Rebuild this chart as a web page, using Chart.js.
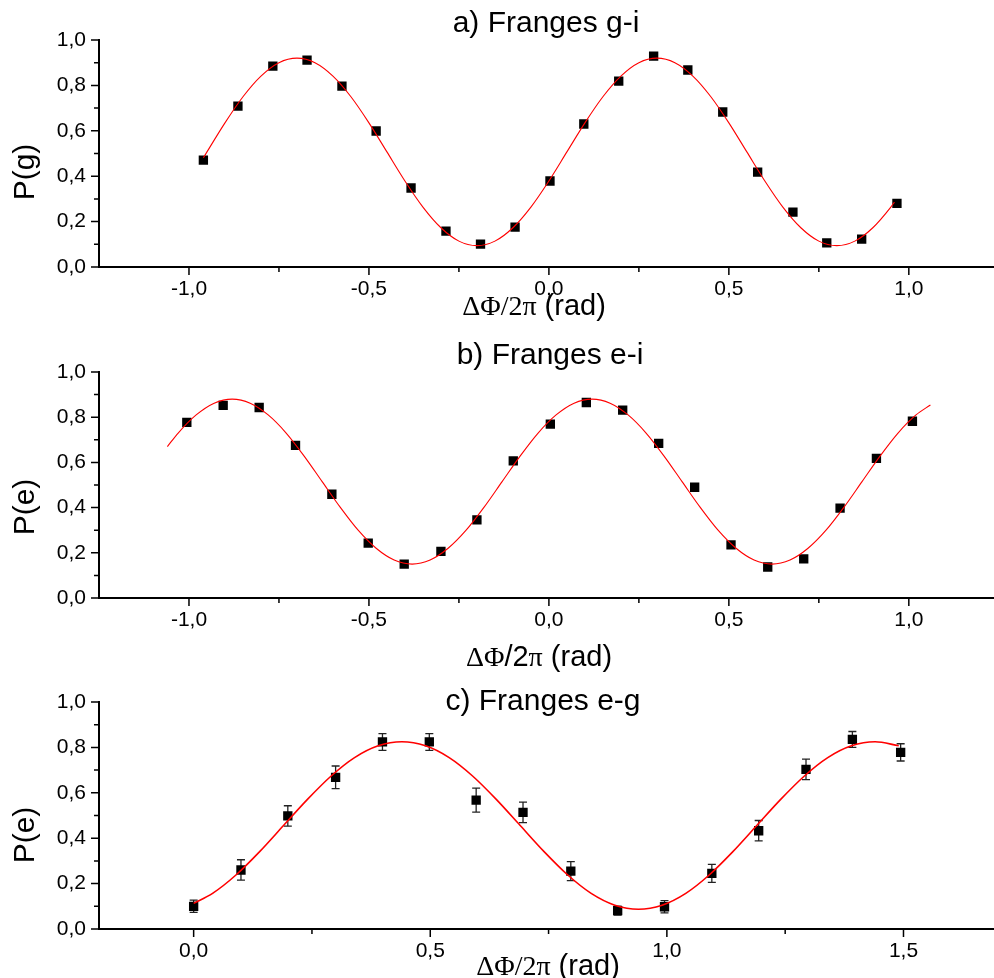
<!DOCTYPE html>
<html>
<head>
<meta charset="utf-8">
<script src="https://cdn.jsdelivr.net/npm/chart.js@4.4.1/dist/chart.umd.min.js"></script>
<style>
  html, body { margin: 0; background: #fff; }
  #wrap { position: relative; width: 994px; height: 978px; overflow: hidden; }
  canvas { position: absolute; left: 0; top: 0; }
</style>
</head>
<body>
<div id="wrap">
  <canvas id="chartA" width="1000" height="978"></canvas>
  <canvas id="chartB" width="1000" height="978"></canvas>
  <canvas id="chartC" width="1000" height="978"></canvas>
</div>
<script>
// a) Franges g-i
const xA = [-0.96, -0.864, -0.767, -0.672, -0.575, -0.48, -0.383, -0.286, -0.19, -0.094, 0.003, 0.097, 0.194, 0.291, 0.386, 0.483, 0.58, 0.678, 0.772, 0.869, 0.967];
const yA = [0.471, 0.709, 0.885, 0.911, 0.797, 0.599, 0.348, 0.158, 0.101, 0.176, 0.379, 0.63, 0.819, 0.929, 0.868, 0.683, 0.418, 0.242, 0.106, 0.123, 0.28];
const fitXA = [-0.96, -0.95, -0.9, -0.85, -0.8, -0.75, -0.7, -0.65, -0.6, -0.55, -0.5, -0.45, -0.4, -0.35, -0.3, -0.25, -0.2, -0.15, -0.1, -0.05, 0, 0.05, 0.1, 0.15, 0.2, 0.25, 0.3, 0.35, 0.4, 0.45, 0.5, 0.55, 0.6, 0.65, 0.7, 0.75, 0.8, 0.85, 0.9, 0.95, 0.96];
const fitYA = [0.481, 0.507, 0.635, 0.750, 0.841, 0.900, 0.920, 0.900, 0.841, 0.750, 0.635, 0.507, 0.379, 0.264, 0.173, 0.114, 0.094, 0.114, 0.173, 0.264, 0.379, 0.507, 0.635, 0.750, 0.841, 0.900, 0.920, 0.900, 0.841, 0.750, 0.635, 0.507, 0.379, 0.264, 0.173, 0.114, 0.094, 0.114, 0.173, 0.264, 0.286];

// b) Franges e-i
const xB = [-1.006, -0.905, -0.805, -0.704, -0.603, -0.502, -0.402, -0.3, -0.2, -0.099, 0.004, 0.104, 0.205, 0.305, 0.405, 0.506, 0.608, 0.708, 0.809, 0.91, 1.01];
const yB = [0.777, 0.852, 0.843, 0.675, 0.459, 0.243, 0.150, 0.206, 0.346, 0.607, 0.769, 0.865, 0.831, 0.684, 0.49, 0.235, 0.137, 0.173, 0.398, 0.618, 0.782];
const fitXB = [-1.06, -1.03, -0.98, -0.93, -0.88, -0.83, -0.78, -0.73, -0.68, -0.63, -0.58, -0.53, -0.48, -0.43, -0.38, -0.33, -0.28, -0.23, -0.18, -0.13, -0.08, -0.03, 0.02, 0.07, 0.12, 0.17, 0.22, 0.27, 0.32, 0.37, 0.42, 0.47, 0.52, 0.57, 0.62, 0.67, 0.72, 0.77, 0.82, 0.87, 0.92, 0.97, 1.02, 1.06];
const fitYB = [0.670, 0.730, 0.810, 0.862, 0.880, 0.862, 0.810, 0.730, 0.628, 0.515, 0.402, 0.300, 0.220, 0.168, 0.150, 0.168, 0.220, 0.300, 0.402, 0.515, 0.628, 0.730, 0.810, 0.862, 0.880, 0.862, 0.810, 0.730, 0.628, 0.515, 0.402, 0.300, 0.220, 0.168, 0.150, 0.168, 0.220, 0.300, 0.402, 0.515, 0.628, 0.730, 0.810, 0.854];

// c) Franges e-g (with error bars)
const xC = [0, 0.1, 0.199, 0.3, 0.399, 0.498, 0.597, 0.696, 0.797, 0.896, 0.995, 1.095, 1.194, 1.294, 1.392, 1.494];
const yC = [0.1, 0.26, 0.498, 0.668, 0.824, 0.824, 0.568, 0.514, 0.255, 0.081, 0.098, 0.245, 0.433, 0.703, 0.835, 0.778];
const errC = [0.027, 0.045, 0.045, 0.05, 0.037, 0.037, 0.053, 0.045, 0.042, 0.02, 0.027, 0.04, 0.045, 0.045, 0.035, 0.038];
const fitXC = [0, 0.04, 0.09, 0.14, 0.19, 0.24, 0.29, 0.34, 0.39, 0.44, 0.49, 0.54, 0.59, 0.64, 0.69, 0.74, 0.79, 0.84, 0.89, 0.94, 0.99, 1.04, 1.09, 1.14, 1.19, 1.24, 1.29, 1.34, 1.39, 1.44, 1.49];
const fitYC = [0.113, 0.157, 0.239, 0.342, 0.456, 0.570, 0.673, 0.755, 0.807, 0.825, 0.807, 0.755, 0.673, 0.570, 0.456, 0.342, 0.239, 0.157, 0.105, 0.087, 0.105, 0.157, 0.239, 0.342, 0.456, 0.570, 0.673, 0.755, 0.807, 0.825, 0.807];

// tick values
const yMajor = [0, 0.2, 0.4, 0.6, 0.8, 1.0];
const yMinor = [0.1, 0.3, 0.5, 0.7, 0.9];
const xMajorAB = [-1, -0.5, 0, 0.5, 1];
const xMinorAB = [-0.75, -0.25, 0.25, 0.75];
const xMajorC = [0, 0.5, 1, 1.5];
const xMinorC = [0.25, 0.75, 1.25];

const SANS = "'Liberation Sans', Arial, sans-serif";
const SERIF = "'Liberation Serif', 'Times New Roman', serif";

const fmt = v => v.toFixed(1).replace('.', ',');

function decor(p) {
    return {
        id: 'decor',
        beforeDatasetsDraw(chart) {
            if (!p.err) return;
            const ctx = chart.ctx, xs = chart.scales.x, ys = chart.scales.y;
            ctx.save();
            ctx.strokeStyle = '#222';
            ctx.lineWidth = 1.3;
            p.ptX.forEach((x, i) => {
                const px = xs.getPixelForValue(x);
                const top = ys.getPixelForValue(p.ptY[i] + p.err[i]);
                const bot = ys.getPixelForValue(p.ptY[i] - p.err[i]);
                ctx.beginPath();
                ctx.moveTo(px, top); ctx.lineTo(px, bot);
                ctx.moveTo(px - 4, top); ctx.lineTo(px + 4, top);
                ctx.moveTo(px - 4, bot); ctx.lineTo(px + 4, bot);
                ctx.stroke();
            });
            ctx.restore();
        },
        afterDraw(chart) {
            const ctx = chart.ctx, xs = chart.scales.x, ys = chart.scales.y;
            const area = chart.chartArea;
            ctx.save();
            ctx.strokeStyle = '#000';
            ctx.lineWidth = 1.5;
            ctx.beginPath();
            p.xMajor.forEach(v => { const px = xs.getPixelForValue(v); ctx.moveTo(px, area.bottom); ctx.lineTo(px, area.bottom + 8); });
            p.xMinor.forEach(v => { const px = xs.getPixelForValue(v); ctx.moveTo(px, area.bottom); ctx.lineTo(px, area.bottom + 5); });
            yMajor.forEach(v => { const py = ys.getPixelForValue(v); ctx.moveTo(area.left, py); ctx.lineTo(area.left - 8, py); });
            yMinor.forEach(v => { const py = ys.getPixelForValue(v); ctx.moveTo(area.left, py); ctx.lineTo(area.left - 5, py); });
            ctx.stroke();

            ctx.fillStyle = '#000';
            ctx.textBaseline = 'alphabetic';
            ctx.textAlign = 'center';
            ctx.font = '30px ' + SANS;
            ctx.fillText(p.title, p.titlePos[0], p.titlePos[1]);

            ctx.save();
            ctx.translate(34, p.yLabelY);
            ctx.rotate(-Math.PI / 2);
            ctx.fillText(p.yLabel, 0, 0);
            ctx.restore();

            // x label, mixed serif / sans glyphs
            ctx.textAlign = 'left';
            let total = 0;
            p.xLabel.forEach(s => { ctx.font = s[1]; total += ctx.measureText(s[0]).width; });
            let x = p.xLabelPos[0] - total / 2;
            p.xLabel.forEach(s => {
                ctx.font = s[1];
                ctx.fillText(s[0], x, p.xLabelPos[1]);
                x += ctx.measureText(s[0]).width;
            });
            ctx.restore();
        }
    };
}

function makeChart(id, p) {
    new Chart(document.getElementById(id), {
        type: 'scatter',
        data: {
            datasets: [{
                data: p.fitX.map((x, i) => ({ x, y: p.fitY[i] })),
                showLine: true,
                borderColor: '#ff0000',
                borderWidth: p.lw,
                pointRadius: 0,
                cubicInterpolationMode: 'monotone',
                fill: false
            }, {
                data: p.ptX.map((x, i) => ({ x, y: p.ptY[i] })),
                pointStyle: 'rect',
                pointRadius: 6.6,
                backgroundColor: '#000',
                borderWidth: 0
            }]
        },
        options: {
            responsive: false,
            animation: false,
            events: [],
            layout: { padding: { top: p.top, bottom: 978 - p.bottom - 40, left: 0, right: 0 } },
            plugins: { legend: { display: false }, tooltip: { enabled: false } },
            scales: {
                x: {
                    type: 'linear',
                    min: p.xMin,
                    max: p.xMax,
                    afterFit: s => { s.height = 40; },
                    afterBuildTicks: s => { s.ticks = p.xMajor.map(v => ({ value: v })); },
                    grid: { display: false, drawTicks: false },
                    border: { color: '#000', width: 2 },
                    ticks: { font: { family: SANS, size: 21 }, color: '#000', padding: 10, maxRotation: 0, autoSkip: false, callback: fmt }
                },
                y: {
                    min: 0,
                    max: 1,
                    afterFit: s => { s.width = 99; },
                    afterBuildTicks: s => { s.ticks = yMajor.map(v => ({ value: v })); },
                    grid: { display: false, drawTicks: false },
                    border: { color: '#000', width: 2 },
                    ticks: { font: { family: SANS, size: 21 }, color: '#000', padding: 13, autoSkip: false, callback: fmt }
                }
            }
        },
        plugins: [decor(p)]
    });
}

const sans28 = '29px ' + SANS;
const serif28 = '28px ' + SERIF;

makeChart('chartA', {
    ptX: xA, ptY: yA, fitX: fitXA, fitY: fitYA, lw: 1.1,
    top: 40, bottom: 267, xMin: -1.25, xMax: 1.235,
    xMajor: xMajorAB, xMinor: xMinorAB,
    title: 'a) Franges g-i', titlePos: [546, 32],
    yLabel: 'P(g)', yLabelY: 172,
    xLabel: [['ΔΦ/2π', serif28], [' (rad)', sans28]], xLabelPos: [534, 315]
});

makeChart('chartB', {
    ptX: xB, ptY: yB, fitX: fitXB, fitY: fitYB, lw: 1.1,
    top: 372, bottom: 598, xMin: -1.25, xMax: 1.235,
    xMajor: xMajorAB, xMinor: xMinorAB,
    title: 'b) Franges e-i', titlePos: [550, 364],
    yLabel: 'P(e)', yLabelY: 507,
    xLabel: [['ΔΦ', serif28], ['/2', sans28], ['π', serif28], [' (rad)', sans28]], xLabelPos: [539, 666]
});

makeChart('chartC', {
    ptX: xC, ptY: yC, err: errC, fitX: fitXC, fitY: fitYC, lw: 1.6,
    top: 702, bottom: 929, xMin: -0.2, xMax: 1.69,
    xMajor: xMajorC, xMinor: xMinorC,
    title: 'c) Franges e-g', titlePos: [543, 710],
    yLabel: 'P(e)', yLabelY: 835,
    xLabel: [['ΔΦ/2π', serif28], [' (rad)', sans28]], xLabelPos: [548, 975]
});
</script>
</body>
</html>
